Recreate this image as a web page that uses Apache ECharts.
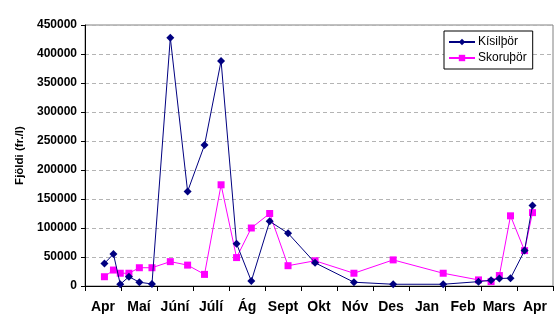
<!DOCTYPE html>
<html>
<head>
<meta charset="utf-8">
<script src="https://cdn.jsdelivr.net/npm/echarts@6/dist/echarts.min.js"></script>
<style>
  html, body { margin: 0; padding: 0; background: #fff; }
  #chart { width: 557px; height: 331px; }
</style>
</head>
<body>
<div id="chart"></div>
<script>
// Month labels along the bottom (April to April)
const months = ['Apr', 'Maí', 'Júní', 'Júlí', 'Ág', 'Sept', 'Okt', 'Nóv', 'Des', 'Jan', 'Feb', 'Mars', 'Apr'];

// Sampling times, in months since the start of April
const sampleTimes = [0.54, 0.79, 0.98, 1.22, 1.51, 1.86, 2.37, 2.85, 3.32, 3.78, 4.21, 4.62, 5.13, 5.64,
  6.39, 7.47, 8.56, 9.95, 10.93, 11.28, 11.51, 11.82, 12.21, 12.43];

// Cell counts (fr./l)
const kisilthor = [39000, 55000, 3000, 16000, 6500, 3500, 428000, 163000, 243000, 388000, 73000, 8500,
  111500, 91000, 40000, 6500, 3000, 3000, 7500, 10000, 13000, 13500, 61000, 139000];
const skoruthor = [16000, 27500, 22000, 22000, 31500, 31500, 42000, 36000, 20000, 174500, 49000, 100000,
  125000, 35000, 43500, 22000, 45000, 22000, 10500, 7500, 18000, 121000, 61000, 126500];

const pairs = (ys) => sampleTimes.map((t, i) => [t, ys[i]]);

const font = 'Liberation Sans, Arial, sans-serif';
const chart = echarts.init(document.getElementById('chart'), null, { renderer: 'canvas' });

chart.setOption({
  animation: false,
  backgroundColor: '#ffffff',
  grid: {
    left: 85, right: 4, top: 25, bottom: 45,
    show: true, borderColor: '#808080', borderWidth: 1, backgroundColor: 'transparent'
  },
  legend: {
    orient: 'vertical',
    left: 444, top: 31,
    width: 86,
    padding: [5, 6, 5, 4],
    itemGap: 4,
    itemWidth: 26, itemHeight: 8,
    borderColor: '#000', borderWidth: 1,
    backgroundColor: '#fff',
    textStyle: { fontFamily: font, fontSize: 12, color: '#000', padding: [0, 0, 0, -2] },
    data: ['Kísilþör', 'Skoruþör']
  },
  xAxis: [
    {
      type: 'value', min: 0, max: 13, interval: 1,
      axisLine: { show: true, onZero: false, lineStyle: { color: '#000', width: 1 } },
      axisTick: { show: true, inside: false, length: 5, lineStyle: { color: '#000' } },
      axisLabel: { show: false },
      splitLine: { show: false }
    },
    {
      type: 'category', position: 'bottom', data: months, boundaryGap: true,
      axisLine: { show: false }, axisTick: { show: false },
      axisLabel: { fontFamily: font, fontSize: 14, fontWeight: 'bold', color: '#000', margin: 14, interval: 0 },
      splitLine: { show: false }
    }
  ],
  yAxis: {
    type: 'value', min: 0, max: 450000, interval: 50000,
    name: 'Fjöldi (fr./l)', nameLocation: 'middle', nameGap: 57, nameRotate: 90,
    nameTextStyle: { fontFamily: font, fontSize: 11.5, fontWeight: 'bold', color: '#000' },
    axisLine: { show: true, lineStyle: { color: '#000', width: 1 } },
    axisTick: { show: true, inside: false, length: 4, lineStyle: { color: '#000' } },
    axisLabel: { fontFamily: font, fontSize: 12, fontWeight: 'bold', color: '#000', margin: 8,
      formatter: (v) => String(v) },
    splitLine: { show: true, lineStyle: { color: '#b4b4b4', type: [4, 3], width: 1 } }
  },
  series: [
    {
      name: 'Kísilþör', type: 'line', xAxisIndex: 0,
      data: pairs(kisilthor),
      symbol: 'diamond', symbolSize: 8,
      itemStyle: { color: '#000080' },
      lineStyle: { color: '#000080', width: 1 },
      z: 3
    },
    {
      name: 'Skoruþör', type: 'line', xAxisIndex: 0,
      data: pairs(skoruthor),
      symbol: 'rect', symbolSize: 7,
      itemStyle: { color: '#ff00ff' },
      lineStyle: { color: '#ff00ff', width: 1 },
      z: 2
    }
  ]
});
</script>
</body>
</html>
